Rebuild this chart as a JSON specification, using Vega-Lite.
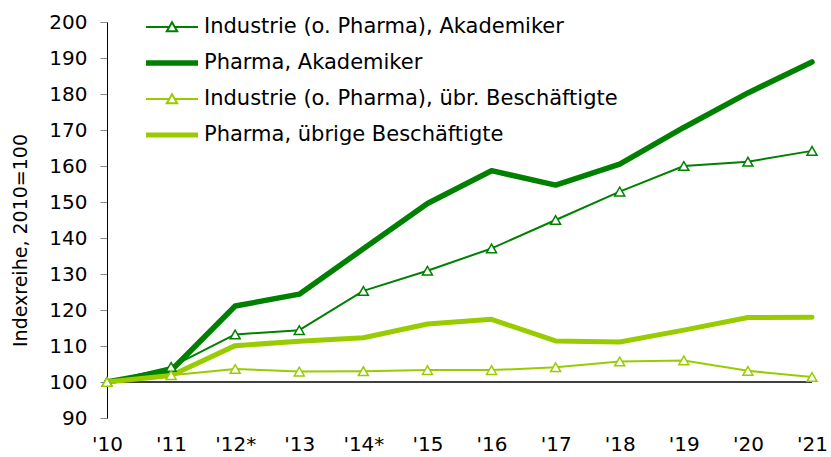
{
  "$schema": "https://vega.github.io/schema/vega-lite/v6.json",
  "width": 705,
  "height": 396,
  "autosize": "none",
  "padding": {"left": 107, "top": 22, "right": 19, "bottom": 39},
  "background": "white",
  "config": {
    "font": "DejaVu Sans",
    "view": {"stroke": null},
    "axis": {"grid": false, "labelColor": "black", "titleColor": "black"},
    "axisY": {"domainColor": "black", "tickColor": "#888888", "tickSize": 7, "labelFontSize": 20, "labelPadding": 13, "titleFontSize": 19, "titleFontWeight": "normal", "titlePadding": 18},
    "axisX": {"domain": false, "ticks": false, "labelFontSize": 20, "labelAngle": 0, "labelPadding": 16}
  },
  "resolve": {"axis": {"y": "independent"}},
  "datasets": {
    "series": [
      {"year": "'10", "series": "Industrie (o. Pharma), Akademiker", "value": 100},
      {"year": "'11", "series": "Industrie (o. Pharma), Akademiker", "value": 104.2},
      {"year": "'12*", "series": "Industrie (o. Pharma), Akademiker", "value": 113.2},
      {"year": "'13", "series": "Industrie (o. Pharma), Akademiker", "value": 114.4},
      {"year": "'14*", "series": "Industrie (o. Pharma), Akademiker", "value": 125.3},
      {"year": "'15", "series": "Industrie (o. Pharma), Akademiker", "value": 130.9},
      {"year": "'16", "series": "Industrie (o. Pharma), Akademiker", "value": 137.1},
      {"year": "'17", "series": "Industrie (o. Pharma), Akademiker", "value": 145.0},
      {"year": "'18", "series": "Industrie (o. Pharma), Akademiker", "value": 152.9},
      {"year": "'19", "series": "Industrie (o. Pharma), Akademiker", "value": 160.0},
      {"year": "'20", "series": "Industrie (o. Pharma), Akademiker", "value": 161.2},
      {"year": "'21", "series": "Industrie (o. Pharma), Akademiker", "value": 164.2},
      {"year": "'10", "series": "Pharma, Akademiker", "value": 100},
      {"year": "'11", "series": "Pharma, Akademiker", "value": 103.2},
      {"year": "'12*", "series": "Pharma, Akademiker", "value": 121.1},
      {"year": "'13", "series": "Pharma, Akademiker", "value": 124.4},
      {"year": "'14*", "series": "Pharma, Akademiker", "value": 137.0},
      {"year": "'15", "series": "Pharma, Akademiker", "value": 149.6},
      {"year": "'16", "series": "Pharma, Akademiker", "value": 158.7},
      {"year": "'17", "series": "Pharma, Akademiker", "value": 154.7},
      {"year": "'18", "series": "Pharma, Akademiker", "value": 160.5},
      {"year": "'19", "series": "Pharma, Akademiker", "value": 170.7},
      {"year": "'20", "series": "Pharma, Akademiker", "value": 180.3},
      {"year": "'21", "series": "Pharma, Akademiker", "value": 188.9},
      {"year": "'10", "series": "Industrie (o. Pharma), übr. Beschäftigte", "value": 100},
      {"year": "'11", "series": "Industrie (o. Pharma), übr. Beschäftigte", "value": 101.9},
      {"year": "'12*", "series": "Industrie (o. Pharma), übr. Beschäftigte", "value": 103.6},
      {"year": "'13", "series": "Industrie (o. Pharma), übr. Beschäftigte", "value": 102.9},
      {"year": "'14*", "series": "Industrie (o. Pharma), übr. Beschäftigte", "value": 103.0},
      {"year": "'15", "series": "Industrie (o. Pharma), übr. Beschäftigte", "value": 103.3},
      {"year": "'16", "series": "Industrie (o. Pharma), übr. Beschäftigte", "value": 103.3},
      {"year": "'17", "series": "Industrie (o. Pharma), übr. Beschäftigte", "value": 104.1},
      {"year": "'18", "series": "Industrie (o. Pharma), übr. Beschäftigte", "value": 105.7},
      {"year": "'19", "series": "Industrie (o. Pharma), übr. Beschäftigte", "value": 106.0},
      {"year": "'20", "series": "Industrie (o. Pharma), übr. Beschäftigte", "value": 103.1},
      {"year": "'21", "series": "Industrie (o. Pharma), übr. Beschäftigte", "value": 101.4},
      {"year": "'10", "series": "Pharma, übrige Beschäftigte", "value": 100},
      {"year": "'11", "series": "Pharma, übrige Beschäftigte", "value": 101.8},
      {"year": "'12*", "series": "Pharma, übrige Beschäftigte", "value": 110.1},
      {"year": "'13", "series": "Pharma, übrige Beschäftigte", "value": 111.3},
      {"year": "'14*", "series": "Pharma, übrige Beschäftigte", "value": 112.3},
      {"year": "'15", "series": "Pharma, übrige Beschäftigte", "value": 116.1},
      {"year": "'16", "series": "Pharma, übrige Beschäftigte", "value": 117.4},
      {"year": "'17", "series": "Pharma, übrige Beschäftigte", "value": 111.4},
      {"year": "'18", "series": "Pharma, übrige Beschäftigte", "value": 111.1},
      {"year": "'19", "series": "Pharma, übrige Beschäftigte", "value": 114.4},
      {"year": "'20", "series": "Pharma, übrige Beschäftigte", "value": 117.9},
      {"year": "'21", "series": "Pharma, übrige Beschäftigte", "value": 118.0}
    ],
    "baseline": [{"value": 100}]
  },
  "layer": [
    {
      "data": {"name": "baseline"},
      "mark": {"type": "rule", "color": "black", "strokeWidth": 1.3},
      "encoding": {
        "y": {"field": "value", "type": "quantitative", "scale": {"domain": [90, 200], "zero": false, "nice": false}, "axis": null}
      }
    },
    {
      "data": {"name": "series"},
      "mark": {"type": "line", "strokeCap": "round", "strokeJoin": "round"},
      "encoding": {
        "x": {
          "field": "year", "type": "ordinal",
          "sort": ["'10", "'11", "'12*", "'13", "'14*", "'15", "'16", "'17", "'18", "'19", "'20", "'21"],
          "scale": {"type": "point", "padding": 0},
          "axis": {"title": null}
        },
        "y": {
          "field": "value", "type": "quantitative",
          "scale": {"domain": [90, 200], "zero": false, "nice": false},
          "axis": {"title": "Indexreihe, 2010=100", "titleY": 218, "values": [90, 100, 110, 120, 130, 140, 150, 160, 170, 180, 190, 200], "labelOverlap": false, "labelSeparation": 0, "labelBound": false, "labelFlush": false}
        },
        "color": {
          "field": "series", "type": "nominal",
          "scale": {
            "domain": ["Industrie (o. Pharma), Akademiker", "Pharma, Akademiker", "Industrie (o. Pharma), übr. Beschäftigte", "Pharma, übrige Beschäftigte"],
            "range": ["#008000", "#008000", "#99cc00", "#99cc00"]
          },
          "legend": {
            "title": null, "orient": "none", "legendX": 36, "legendY": -10,
            "labelFontSize": 21, "labelColor": "black", "labelLimit": 0, "labelOffset": 3,
            "clipHeight": 30, "rowPadding": 6, "symbolType": "stroke",
            "encode": {
              "symbols": {
                "update": {
                  "shape": {"signal": "indexof(datum.value,'Industrie')===0 ? 'M-1,0L-0.1,0M0.1,0L1,0M0,-0.18L0.2,0.16L-0.2,0.16Z' : 'M-1,0L1,0'"},
                  "size": {"value": 2704},
                  "fill": {"value": "white"},
                  "opacity": {"value": 1}
                }
              }
            }
          }
        },
        "strokeWidth": {
          "field": "series", "type": "nominal",
          "scale": {
            "type": "ordinal",
            "domain": ["Industrie (o. Pharma), Akademiker", "Pharma, Akademiker", "Industrie (o. Pharma), übr. Beschäftigte", "Pharma, übrige Beschäftigte"],
            "range": [2, 5.5, 2, 5]
          }
        }
      }
    },
    {
      "data": {"name": "series"},
      "transform": [{"filter": "indexof(datum.series,'Industrie')===0"}],
      "mark": {"type": "point", "shape": "triangle-up", "filled": false, "fill": "white", "opacity": 1, "size": 100, "strokeWidth": 1.5},
      "encoding": {
        "x": {"field": "year", "type": "ordinal", "sort": ["'10", "'11", "'12*", "'13", "'14*", "'15", "'16", "'17", "'18", "'19", "'20", "'21"]},
        "y": {"field": "value", "type": "quantitative", "axis": null},
        "color": {"field": "series", "type": "nominal", "legend": null}
      }
    }
  ]
}
